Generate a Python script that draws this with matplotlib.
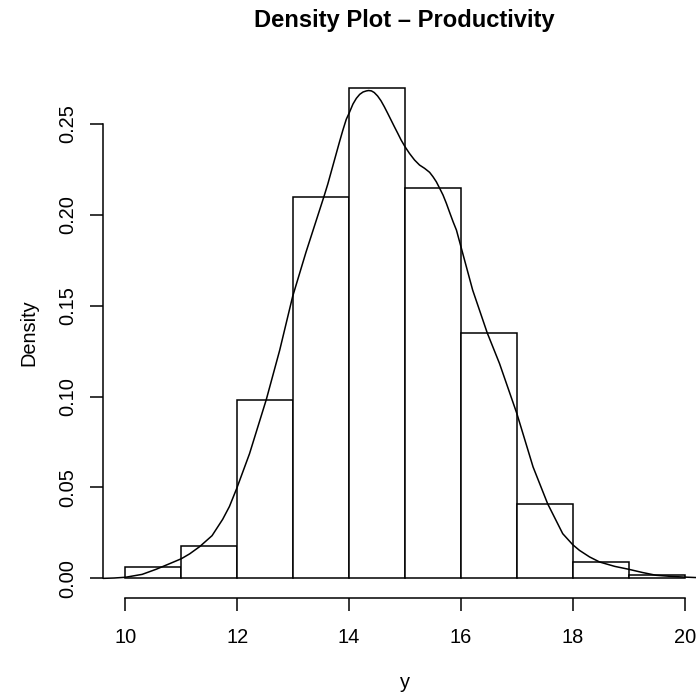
import matplotlib
matplotlib.use("Agg")
import matplotlib.pyplot as plt

# Histogram (density scale)
bin_edges = [10, 11, 12, 13, 14, 15, 16, 17, 18, 19, 20]
bin_density = [0.006, 0.018, 0.098, 0.2098, 0.270, 0.2148, 0.135, 0.041, 0.009, 0.0017]

# Kernel density curve
kde_x = [9.6, 9.8, 10.0, 10.3, 10.55, 10.8, 11.0, 11.15, 11.33, 11.55, 11.74, 11.86,
         11.99, 12.22, 12.52, 12.76, 12.99, 13.23, 13.55, 13.62, 13.83, 13.89, 13.95,
         14.0, 14.07, 14.13, 14.19, 14.25, 14.31, 14.35, 14.40, 14.45, 14.51, 14.57,
         14.63, 14.69, 14.75, 14.81, 14.87, 14.93, 15.0, 15.08, 15.17, 15.26, 15.35,
         15.44, 15.50, 15.56, 15.62, 15.68, 15.74, 15.80, 15.86, 15.92, 16.0, 16.21,
         16.47, 16.69, 17.0, 17.29, 17.55, 17.82, 18.0, 18.12, 18.3, 18.48, 18.75,
         19.0, 19.25, 19.49, 19.75, 20.0, 20.4]
kde_y = [0.0000, 0.0002, 0.0006, 0.0022, 0.0050, 0.0082, 0.0108, 0.0135, 0.0175,
         0.0235, 0.0325, 0.0395, 0.0494, 0.0686, 0.0984, 0.1256, 0.1550, 0.1795,
         0.2100, 0.2170, 0.2403, 0.2467, 0.2526, 0.2559, 0.2610, 0.2641, 0.2663,
         0.2676, 0.2682, 0.2684, 0.2682, 0.2673, 0.2654, 0.2628, 0.2595, 0.2559,
         0.2522, 0.2485, 0.2449, 0.2412, 0.2375, 0.2338, 0.2302, 0.2274, 0.2256,
         0.2234, 0.2210, 0.2182, 0.2146, 0.2109, 0.2063, 0.2012, 0.1962, 0.1916,
         0.1825, 0.1586, 0.1351, 0.1182, 0.0907, 0.0613, 0.0411, 0.0246, 0.0185,
         0.0154, 0.0118, 0.0090, 0.0066, 0.0050, 0.0032, 0.0017, 0.0011, 0.0007,
         0.0002]

x_ticks = [10, 12, 14, 16, 18, 20]
y_ticks = [0.00, 0.05, 0.10, 0.15, 0.20, 0.25]
y_tick_labels = ["0.00", "0.05", "0.10", "0.15", "0.20", "0.25"]

plt.rcParams['font.family'] = ['Liberation Sans', 'DejaVu Sans']

W = H = 696
fig = plt.figure(figsize=(6.96, 6.96), dpi=100)
left_px, right_px, top_px, bottom_px = 103, 707, 68, 598
ax = fig.add_axes([left_px / W, 1 - bottom_px / H,
                   (right_px - left_px) / W, (bottom_px - top_px) / H])

widths = [bin_edges[i + 1] - bin_edges[i] for i in range(len(bin_density))]
ax.bar(bin_edges[:-1], bin_density, width=widths, align='edge',
       facecolor='white', edgecolor='black', linewidth=1.1)
ax.plot(kde_x, kde_y, color='black', linewidth=1.1)

ax.set_xlim(9.6, 20.4)
ax.set_ylim(-0.0108, 0.2808)

for s in ['top', 'right']:
    ax.spines[s].set_visible(False)
ax.spines['left'].set_bounds(0, 0.25)
ax.spines['bottom'].set_bounds(10, 20)
for s in ['left', 'bottom']:
    ax.spines[s].set_linewidth(1.1)

fs = 14.4
ax.set_xticks(x_ticks)
ax.set_xticklabels([str(t) for t in x_ticks], fontsize=fs)
ax.set_yticks(y_ticks)
ax.set_yticklabels(y_tick_labels, fontsize=fs, rotation=90, va='center')
ax.tick_params(axis='both', direction='out', length=9.4, width=1.1, color='black')
ax.tick_params(axis='x', pad=12)
ax.tick_params(axis='y', pad=9)

fig.text(404 / W, 1 - 27.5 / H, "Density Plot \u2013 Productivity",
         ha='center', va='baseline', fontsize=17.1, fontweight='bold')
fig.text(405 / W, 1 - 688 / H, "y",
         ha='center', va='baseline', fontsize=fs)
fig.text(34 / W, 1 - (top_px + bottom_px) / 2 / H, "Density",
         ha='center', va='baseline', fontsize=fs, rotation=90,
         rotation_mode='anchor')

fig.savefig("out.png", dpi=100, facecolor='white')
